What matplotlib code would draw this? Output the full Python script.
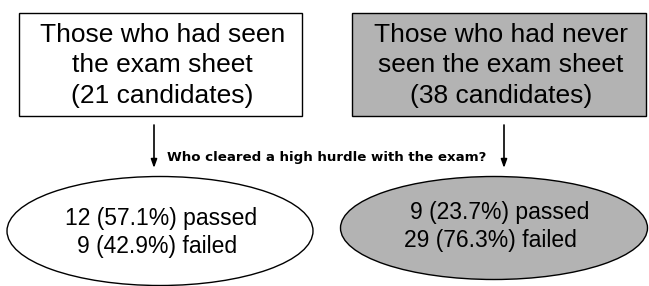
import matplotlib.pyplot as plt
from matplotlib.patches import Rectangle, Ellipse

plt.rcParams['font.family'] = ['Liberation Sans', 'DejaVu Sans']

groups = ["Those who had seen\nthe exam sheet", "Those who had never\nseen the exam sheet"]
candidates = [21, 38]
passed = [12, 9]
failed = [9, 29]
pct_passed = [57.1, 23.7]
pct_failed = [42.9, 76.3]
fills = ["white", "#b3b3b3"]
question = "Who cleared a high hurdle with the exam?"

fig = plt.figure(figsize=(6.49, 2.86), dpi=100)
ax = fig.add_axes([0, 0, 1, 1])
ax.set_xlim(0, 649)
ax.set_ylim(286, 0)
ax.axis("off")

# layout in pixel units
box_x = [19, 352]
box_w = [283, 294]
box_y, box_h = 13, 103
arrow_x = [154, 504]
ell_c = [(160, 231), (494, 228)]
ell_wh = [(306, 109), (307, 103)]
line1_x = [65, 410]
line2_x = [77, 404]
line_y = [(218, 246), (213, 241)]

for i in range(2):
    ax.add_patch(Rectangle((box_x[i], box_y), box_w[i], box_h, facecolor=fills[i],
                           edgecolor="black", lw=1))
    cx = box_x[i] + box_w[i] / 2 + 2
    ax.text(cx, box_y + box_h / 2 + 1, f"{groups[i]}\n({candidates[i]} candidates)",
            ha="center", va="center", fontsize=19, linespacing=1.36)

    ax.annotate("", xy=(arrow_x[i], 168), xytext=(arrow_x[i], 125),
                arrowprops=dict(arrowstyle="-|>,head_width=0.18,head_length=0.5",
                                color="black", lw=1.2, shrinkA=0, shrinkB=0))

    ex, ey = ell_c[i]
    ax.add_patch(Ellipse((ex, ey), ell_wh[i][0], ell_wh[i][1], facecolor=fills[i],
                         edgecolor="black", lw=1))
    ax.text(line1_x[i], line_y[i][0], f"{passed[i]} ({pct_passed[i]:.1f}%) passed",
            ha="left", va="center", fontsize=16.5)
    ax.text(line2_x[i], line_y[i][1], f"{failed[i]} ({pct_failed[i]:.1f}%) failed",
            ha="left", va="center", fontsize=16.5)

ax.text(167, 157, question, ha="left", va="center", fontsize=9.6, fontweight="bold",
        family="DejaVu Sans")

fig.savefig("out.png", dpi=100)
